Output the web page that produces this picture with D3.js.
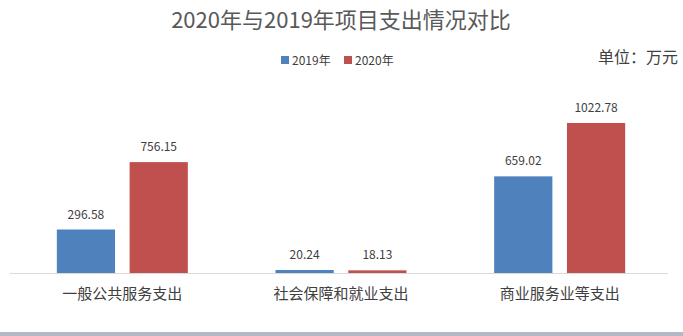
<!DOCTYPE html>
<html>
<head>
<meta charset="utf-8">
<script src="https://cdn.jsdelivr.net/npm/d3@7"></script>
<style>
  html, body { margin: 0; padding: 0; background: #ffffff; }
  svg { display: block; font-family: "Noto Sans CJK SC", "Noto Sans", sans-serif; }
</style>
</head>
<body>
<svg id="chart" width="683" height="336"></svg>
<script>
const categories = ["一般公共服务支出", "社会保障和就业支出", "商业服务业等支出"];
const seriesNames = ["2019年", "2020年"];
const values2019 = [296.58, 20.24, 659.02];
const values2020 = [756.15, 18.13, 1022.78];
const colors = ["#4f81bd", "#c0504d"];

const svg = d3.select("#chart");
const W = 683, H = 336;
const baseY = 273;

// bottom strip
svg.append("rect").attr("x", 0).attr("y", 332).attr("width", W).attr("height", 4).attr("fill", "#b4b8c4");

// title
svg.append("text").attr("x", 341).attr("y", 28).attr("text-anchor", "middle")
  .attr("font-size", 22).attr("fill", "#595959").text("2020年与2019年项目支出情况对比");

// unit note
svg.append("text").attr("x", 678).attr("y", 63).attr("text-anchor", "end")
  .attr("font-size", 16).attr("fill", "#404040").text("单位：万元");

// legend
const legendItems = [{x: 281, name: seriesNames[0], c: colors[0]}, {x: 344, name: seriesNames[1], c: colors[1]}];
legendItems.forEach(d => {
  svg.append("rect").attr("x", d.x).attr("y", 56).attr("width", 8).attr("height", 8).attr("fill", d.c);
  svg.append("text").attr("x", d.x + 11).attr("y", 64.5).attr("font-size", 12).attr("fill", "#404040").text(d.name);
});

const x0 = d3.scaleBand().domain(categories).range([13, 669]);
const x1 = d3.scaleBand().domain(seriesNames).range([0, 131]).paddingInner(0.2);
const y = d3.scaleLinear().domain([0, 1200]).range([baseY, baseY - 1200 * 150 / 1022.78]);

const data = categories.map((c, i) => ({ cat: c, vals: [values2019[i], values2020[i]] }));

const groups = svg.append("g").selectAll("g").data(data).join("g")
  .attr("transform", d => `translate(${x0(d.cat) + (x0.bandwidth() - 131) / 2},0)`);

groups.selectAll("rect").data(d => d.vals.map((v, i) => ({ v, s: seriesNames[i], c: colors[i] })))
  .join("rect")
  .attr("x", d => x1(d.s)).attr("width", x1.bandwidth())
  .attr("y", d => y(d.v)).attr("height", d => baseY - y(d.v))
  .attr("fill", d => d.c);

groups.selectAll("text.val").data(d => d.vals.map((v, i) => ({ v, s: seriesNames[i] })))
  .join("text").attr("class", "val")
  .attr("x", d => x1(d.s) + x1.bandwidth() / 2).attr("y", d => y(d.v) - 11)
  .attr("text-anchor", "middle").attr("font-size", 12).attr("fill", "#404040")
  .text(d => d.v.toFixed(2));

// category axis
const axis = svg.append("g").attr("transform", `translate(0,${baseY + 0.5})`)
  .call(d3.axisBottom(x0).tickSize(0).tickPadding(15));
axis.select(".domain").attr("stroke", "#d9d9d9").attr("d", "M10,0H668");
axis.selectAll("text").attr("font-size", 15).attr("fill", "#404040")
  .attr("font-family", "Noto Sans CJK SC, sans-serif");
</script>
</body>
</html>
